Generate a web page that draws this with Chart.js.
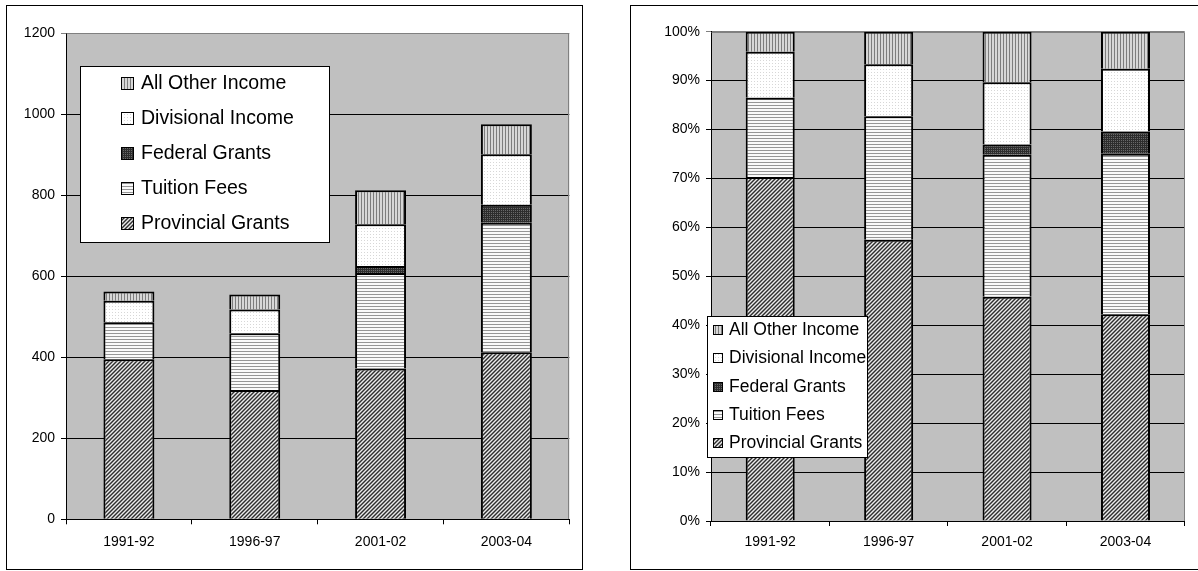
<!DOCTYPE html>
<html>
<head>
<meta charset="utf-8">
<script src="https://cdn.jsdelivr.net/npm/chart.js@4/dist/chart.umd.min.js"></script>
<style>
  body { margin: 0; background: #fff; width: 1198px; height: 571px; overflow: hidden; position: relative; }
  .panel { position: absolute; top: 5px; height: 565px; border: 1px solid #000; box-sizing: border-box; background: #fff; }
  #leftPanel { left: 6px; width: 577px; }
  #rightPanel { left: 630px; width: 580px; }
  canvas { display: block; }
</style>
</head>
<body>
<div class="panel" id="leftPanel"><canvas id="amounts" width="575" height="563"></canvas></div>
<div class="panel" id="rightPanel"><canvas id="shares" width="568" height="563"></canvas></div>

<script>
const years = ["1991-92", "1996-97", "2001-02", "2003-04"];

// income by source, stacked bottom to top
const provincialGrants = [395, 319, 372, 412];
const tuitionFees      = [91, 140, 236, 320];
const federalGrants    = [0, 0, 17, 44];
const divisionalIncome = [53, 59, 103, 125];
const allOtherIncome   = [23, 37, 84, 74];

const amountTicks = [0, 200, 400, 600, 800, 1000, 1200];
const shareTicks = [0, 10, 20, 30, 40, 50, 60, 70, 80, 90, 100];

const FONT = '"Liberation Sans", Arial, sans-serif';
Chart.defaults.font.family = FONT;
Chart.defaults.color = "#000";

// small pixel tiles used as bar fills
function tile(size, shade) {
  const c = document.createElement("canvas");
  c.width = c.height = size;
  const g = c.getContext("2d");
  const img = g.createImageData(size, size);
  for (let y = 0; y < size; y++) {
    for (let x = 0; x < size; x++) {
      const v = shade(x, y);
      const i = (y * size + x) * 4;
      img.data[i] = img.data[i + 1] = img.data[i + 2] = v;
      img.data[i + 3] = 255;
    }
  }
  g.putImageData(img, 0, 0);
  return g.createPattern(c, "repeat");
}

const fills = {
  provincial: tile(4, (x, y) => [45, 140, 235, 140][(x + y) % 4]),
  tuition: tile(3, (x, y) => (y % 3 === 0 ? 150 : 250)),
  federal: tile(2, (x, y) => (x === 0 && y === 0 ? 105 : 45)),
  divisional: tile(3, (x, y) => (x === 0 && y === 0 ? 215 : 255)),
  other: tile(3, (x, y) => (x % 3 === 0 ? 125 : 215)),
};

const series = [
  { label: "Provincial Grants", data: provincialGrants, fill: fills.provincial },
  { label: "Tuition Fees", data: tuitionFees, fill: fills.tuition },
  { label: "Federal Grants", data: federalGrants, fill: fills.federal },
  { label: "Divisional Income", data: divisionalIncome, fill: fills.divisional },
  { label: "All Other Income", data: allOtherIncome, fill: fills.other },
];

const totals = years.map((_, i) => series.reduce((s, d) => s + d.data[i], 0));

function makeDatasets(asShare, barPct) {
  return series.map((s) => ({
    label: s.label,
    data: asShare ? s.data.map((v, i) => (v / totals[i]) * 100) : s.data,
    backgroundColor: s.fill,
    borderColor: "#000",
    borderWidth: 2,
    categoryPercentage: 1,
    barPercentage: barPct,
  }));
}

// grey plot background and the light frame on top / right
const plotFrame = {
  id: "plotFrame",
  beforeDraw(chart) {
    const a = chart.chartArea, ctx = chart.ctx;
    ctx.save();
    ctx.fillStyle = "#c0c0c0";
    ctx.fillRect(a.left, a.top, a.right - a.left, a.bottom - a.top);
    ctx.restore();
  },
  beforeDatasetsDraw(chart) {
    const a = chart.chartArea, ctx = chart.ctx;
    ctx.save();
    ctx.strokeStyle = "#808080";
    ctx.lineWidth = 1;
    ctx.beginPath();
    ctx.moveTo(Math.round(a.left) + 0.5, Math.round(a.top) + 0.5);
    ctx.lineTo(Math.round(a.right) - 0.5, Math.round(a.top) + 0.5);
    ctx.lineTo(Math.round(a.right) - 0.5, Math.round(a.bottom));
    ctx.stroke();
    ctx.restore();
  },
};

// legend drawn as a white box inside the plot
const boxLegend = {
  id: "boxLegend",
  afterDatasetsDraw(chart, args, o) {
    const ctx = chart.ctx;
    ctx.save();
    ctx.fillStyle = "#fff";
    ctx.fillRect(o.x, o.y, o.w, o.h);
    ctx.strokeStyle = "#000";
    ctx.lineWidth = 1;
    ctx.strokeRect(o.x + 0.5, o.y + 0.5, o.w - 1, o.h - 1);
    ctx.font = o.size + "px " + FONT;
    ctx.textBaseline = "middle";
    chart.data.datasets.slice().reverse().forEach((ds, i) => {
      const cy = Math.round(o.y + o.first + i * o.step);
      const top = cy - Math.round(o.sw / 2);
      ctx.fillStyle = ds.backgroundColor;
      ctx.fillRect(o.sx, top, o.sw, o.sw);
      ctx.strokeStyle = "#000";
      ctx.strokeRect(o.sx + 0.5, top + 0.5, o.sw - 1, o.sw - 1);
      ctx.fillStyle = "#000";
      ctx.fillText(ds.label, o.tx, cy);
    });
    ctx.restore();
  },
};

function axes(opts) {
  return {
    x: {
      stacked: true,
      offset: true,
      afterFit: (s) => { s.height = opts.xHeight; },
      grid: { offset: true, drawOnChartArea: false, drawTicks: true, tickLength: 5, color: "#000" },
      border: { color: "#000" },
      ticks: { font: { size: 14 }, padding: opts.xPad, maxRotation: 0 },
    },
    y: {
      stacked: true,
      min: 0,
      max: opts.max,
      afterFit: (s) => { s.width = opts.yWidth; },
      afterBuildTicks: (s) => { s.ticks = opts.ticks.map((v) => ({ value: v })); },
      grid: {
        tickLength: 5,
        color: (c) => (c.tick && c.tick.value === opts.max ? "#808080" : "#000"),
      },
      border: { color: "#000" },
      ticks: { font: { size: 14 }, padding: 6, callback: opts.fmt },
    },
  };
}

new Chart(document.getElementById("amounts"), {
  type: "bar",
  data: { labels: years, datasets: makeDatasets(false, 0.405) },
  options: {
    responsive: false,
    animation: false,
    devicePixelRatio: 1,
    layout: { padding: { left: 0, top: 27, right: 12.7, bottom: 0 } },
    scales: axes({ max: 1200, ticks: amountTicks, xHeight: 49.7, yWidth: 59, xPad: 9, fmt: (v) => v }),
    plugins: {
      legend: { display: false },
      tooltip: { enabled: false },
      boxLegend: { x: 73, y: 60, w: 250, h: 177, first: 18.3, step: 35, sx: 114, sw: 13, tx: 134, size: 19.5 },
    },
  },
  plugins: [plotFrame, boxLegend],
});

new Chart(document.getElementById("shares"), {
  type: "bar",
  data: { labels: years, datasets: makeDatasets(true, 0.414) },
  options: {
    responsive: false,
    animation: false,
    devicePixelRatio: 1,
    layout: { padding: { left: 0, top: 25.7, right: 14.3, bottom: 0 } },
    scales: axes({ max: 100, ticks: shareTicks, xHeight: 48, yWidth: 80, xPad: 8, fmt: (v) => v + "%" }),
    plugins: {
      legend: { display: false },
      tooltip: { enabled: false },
      boxLegend: { x: 76, y: 310, w: 161, h: 142, first: 14, step: 28.3, sx: 82, sw: 10, tx: 98, size: 17.5 },
    },
  },
  plugins: [plotFrame, boxLegend],
});
</script>
</body>
</html>
